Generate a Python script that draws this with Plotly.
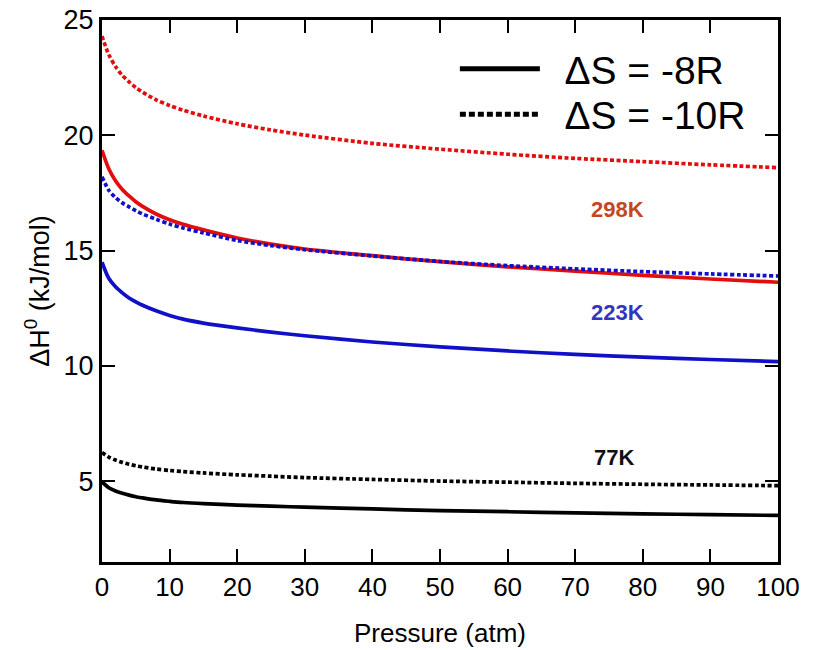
import plotly.graph_objects as go

# Pressure grid (atm)
pressure = [0, 1, 2, 3, 4, 5, 6, 8, 10, 12, 15, 20, 25, 30, 40, 50, 60, 70, 80, 90, 100]

# 298 K
h298_m10 = [24.3, 23.5, 22.98, 22.6, 22.32, 22.07, 21.87, 21.54, 21.29, 21.09, 20.84,
            20.5, 20.23, 20.01, 19.65, 19.4, 19.18, 19.0, 18.86, 18.72, 18.6]
h298_m8 = [19.35, 18.55, 18.03, 17.65, 17.37, 17.12, 16.92, 16.59, 16.34, 16.14, 15.9,
           15.55, 15.28, 15.07, 14.78, 14.52, 14.3, 14.11, 13.93, 13.77, 13.63]
# 223 K
h223_m10 = [18.2, 17.62, 17.3, 17.07, 16.9, 16.73, 16.59, 16.36, 16.15, 15.98, 15.77,
            15.44, 15.22, 15.04, 14.77, 14.53, 14.35, 14.21, 14.09, 13.99, 13.9]
h223_m8 = [14.5, 13.8, 13.43, 13.17, 12.95, 12.78, 12.63, 12.39, 12.19, 12.03, 11.86,
           11.65, 11.47, 11.31, 11.04, 10.83, 10.65, 10.5, 10.38, 10.28, 10.19]
# 77 K
h77_m10 = [6.25, 6.05, 5.92, 5.82, 5.74, 5.67, 5.62, 5.53, 5.47, 5.42, 5.36,
           5.28, 5.22, 5.16, 5.08, 5.01, 4.96, 4.91, 4.87, 4.84, 4.81]
h77_m8 = [4.97, 4.72, 4.58, 4.48, 4.4, 4.33, 4.28, 4.19, 4.13, 4.08, 4.03,
          3.97, 3.92, 3.88, 3.8, 3.73, 3.68, 3.63, 3.59, 3.55, 3.52]

legend_names = ["ΔS = -8R", "ΔS = -10R"]
temp_labels = ["298K", "223K", "77K"]
label_x = [76.3, 76.3, 75.8]
label_y = [16.8, 12.3, 6.05]
label_colors = ["#c4471f", "#3434c0", "#111111"]

RED = "#e30d0d"
BLUE = "#1010c8"
BLACK = "#000000"
DOT = "4px,2.5px"
FONT = "Liberation Sans, Arial, sans-serif"

fig = go.Figure()
series = [
    (h298_m10, RED, DOT), (h298_m8, RED, "solid"),
    (h223_m10, BLUE, DOT), (h223_m8, BLUE, "solid"),
    (h77_m10, BLACK, DOT), (h77_m8, BLACK, "solid"),
]
for ys, col, dash in series:
    fig.add_trace(go.Scatter(
        x=pressure, y=ys, mode="lines", showlegend=False,
        line=dict(color=col, width=3.7, dash=dash, shape="spline", smoothing=0.8),
    ))

# legend-only traces (each in its own legend box so the rows can be spaced)
fig.add_trace(go.Scatter(x=[None], y=[None], mode="lines", name="  " + legend_names[0],
                         legend="legend", line=dict(color=BLACK, width=5)))
fig.add_trace(go.Scatter(x=[None], y=[None], mode="lines", name="  " + legend_names[1],
                         legend="legend2", line=dict(color=BLACK, width=5, dash="6px,3px")))

for t, xx, yy, c in zip(temp_labels, label_x, label_y, label_colors):
    fig.add_annotation(x=xx, y=yy, text="<b>" + t + "</b>", showarrow=False,
                       font=dict(size=22, color=c, family=FONT))

axis_common = dict(
    showline=True, linewidth=3, linecolor="black", mirror="ticks",
    ticks="inside", ticklen=13, tickwidth=2, tickcolor="black",
    showgrid=False, zeroline=False, automargin=False, ticklabeloverflow="allow",
)

legend_common = dict(xanchor="left", yanchor="middle", x=0.522,
                     font=dict(size=39, family=FONT, color="black"),
                     itemwidth=80, bgcolor="rgba(0,0,0,0)")

# page body has an 8px margin, so the figure is sized to fit the 815x650 window
fig.update_layout(
    width=807, height=642,
    margin=dict(l=94, r=37, t=12, b=88, autoexpand=False),
    paper_bgcolor="white", plot_bgcolor="white",
    font=dict(family=FONT, color="black"),
    xaxis=dict(range=[0, 100], tickvals=list(range(0, 101, 10)),
               tickfont=dict(size=26, color="black", family=FONT),
               title=dict(text="Pressure (atm)", font=dict(size=26), standoff=23),
               **axis_common),
    yaxis=dict(range=[1.5, 25], tickvals=[5, 10, 15, 20, 25],
               tickfont=dict(size=27, color="black", family=FONT),
               title=dict(text="ΔH<sup>0</sup> (kJ/mol)", font=dict(size=27), standoff=7),
               **axis_common),
    legend=dict(y=0.91, **legend_common),
    legend2=dict(y=0.826, **legend_common),
)

fig.write_html("out.html")
